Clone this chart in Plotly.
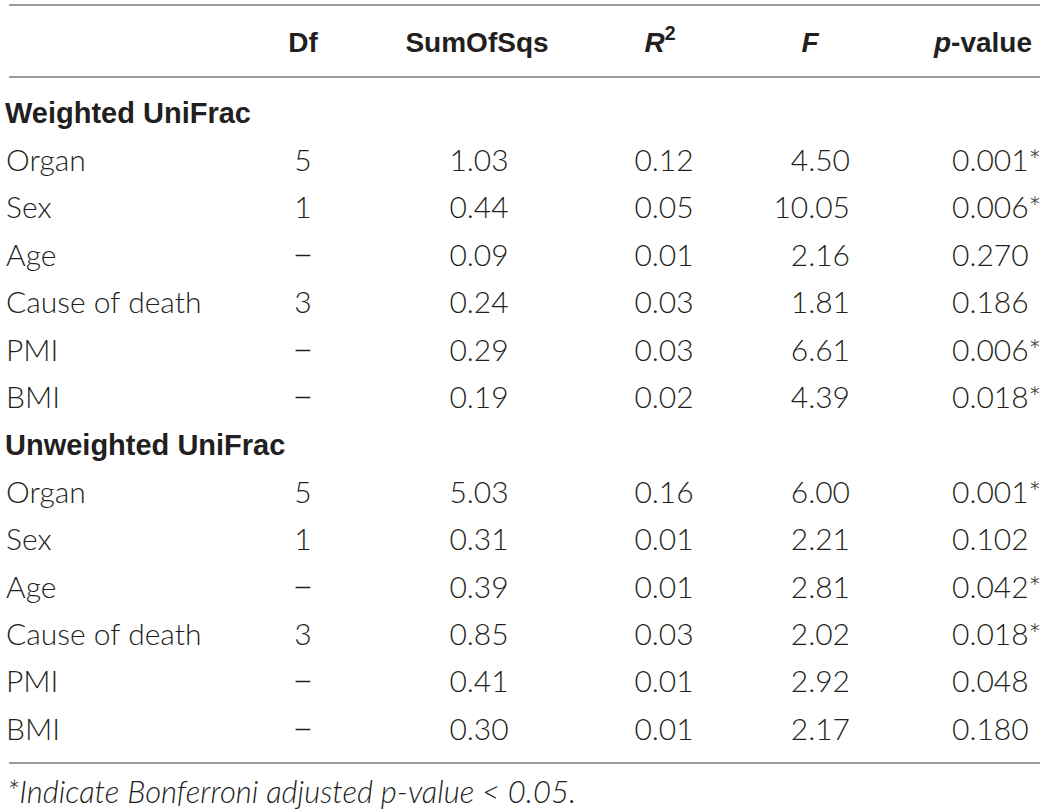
import pandas as pd
import plotly.graph_objects as go

# table content
groups = ["Weighted UniFrac", "Unweighted UniFrac"]
terms = ["Organ", "Sex", "Age", "Cause of death", "PMI", "BMI"]
df_vals = ["5", "1", "–", "3", "–", "–"]

w_sumsq = [1.03, 0.44, 0.09, 0.24, 0.29, 0.19]
w_r2 = [0.12, 0.05, 0.01, 0.03, 0.03, 0.02]
w_f = [4.50, 10.05, 2.16, 1.81, 6.61, 4.39]
w_p = ["0.001*", "0.006*", "0.270", "0.186", "0.006*", "0.018*"]

u_sumsq = [5.03, 0.31, 0.39, 0.85, 0.41, 0.30]
u_r2 = [0.16, 0.01, 0.01, 0.03, 0.01, 0.01]
u_f = [6.00, 2.21, 2.81, 2.02, 2.92, 2.17]
u_p = ["0.001*", "0.102", "0.042*", "0.018*", "0.048", "0.180"]

headers = ["Df", "SumOfSqs", "<i>R</i><sup>2</sup>", "<i>F</i>", "<i>p</i>-value"]
footnote = "*Indicate Bonferroni adjusted p-value < 0.05."

# build rows: group title followed by its terms
rows = []
for g, ss, r2, f, p in [
    (groups[0], w_sumsq, w_r2, w_f, w_p),
    (groups[1], u_sumsq, u_r2, u_f, u_p),
]:
    rows.append({"group": "<b>" + g + "</b>", "label": "", "Df": "", "SS": "", "R2": "", "F": "", "p": ""})
    for i, t in enumerate(terms):
        rows.append(
            {
                "group": "",
                "label": t,
                "Df": df_vals[i],
                "SS": "%.2f" % ss[i],
                "R2": "%.2f" % r2[i],
                "F": "%.2f" % f[i],
                "p": p[i],
            }
        )
tdf = pd.DataFrame(rows)

# layout of the table in pixels
W, H = 1046, 812
ROW0, ROW_H, HEAD_Y = 116, 47.4, 45
tdf["y"] = ROW0 + ROW_H * tdf.index

INK = "#231f20"
BODY = dict(family="Lato", size=30, color=INK, weight=300)
HEAD = dict(family="Liberation Sans", size=28, color=INK)
GROUP = dict(family="Liberation Sans", size=29, color=INK)

# column x position and text anchor
cols = [
    ("label", 6, "middle right", BODY),
    ("group", 5, "middle right", GROUP),
    ("Df", 303, "middle center", BODY),
    ("SS", 479, "middle center", BODY),
    ("R2", 664, "middle center", BODY),
    ("F", 850, "middle left", BODY),
    ("p", 952, "middle right", BODY),
]
head_pos = [
    (303, "middle center"),
    (477, "middle center"),
    (660, "middle center"),
    (810, "middle center"),
    (1032, "middle left"),
]

fig = go.Figure()
for key, x, pos, font in cols:
    sub = tdf[tdf[key] != ""]
    tf = dict(font)
    if key == "Df":
        # Lato's en dash is short; take the dash from Roboto
        tf["family"] = ["Roboto" if s == "–" else "Lato" for s in sub[key]]
    fig.add_trace(
        go.Scatter(
            x=[x] * len(sub),
            y=sub["y"],
            text=sub[key],
            mode="text",
            textposition=pos,
            textfont=tf,
            hoverinfo="skip",
            cliponaxis=False,
        )
    )

fig.add_trace(
    go.Scatter(
        x=[p[0] for p in head_pos],
        y=[HEAD_Y] * len(headers),
        text=["<b>" + h + "</b>" for h in headers],
        mode="text",
        textposition=[p[1] for p in head_pos],
        textfont=HEAD,
        hoverinfo="skip",
        cliponaxis=False,
    )
)

# horizontal rules
for yy in [5, 77, 763]:
    fig.add_shape(
        type="line", x0=9, x1=1040, y0=yy, y1=yy, xref="x", yref="y",
        line=dict(color="#9a9a9a", width=2),
    )

fig.add_annotation(
    x=5, y=791, xref="x", yref="y", xanchor="left", yanchor="middle",
    text="<i>" + footnote.replace("<", "&lt;") + "</i>", showarrow=False,
    font=dict(family="Lato", size=31, color=INK, weight=300),
)

fig.update_layout(
    width=W,
    height=H,
    margin=dict(l=0, r=0, t=0, b=0),
    showlegend=False,
    plot_bgcolor="white",
    paper_bgcolor="white",
    xaxis=dict(range=[0, W], visible=False, fixedrange=True),
    yaxis=dict(range=[H, 0], visible=False, fixedrange=True),
)

# page body has a default 8px margin; drop it so the figure fills the window
fig.write_html(
    "out.html",
    config={"displayModeBar": False},
    post_script="document.body.style.margin = '0';",
)
